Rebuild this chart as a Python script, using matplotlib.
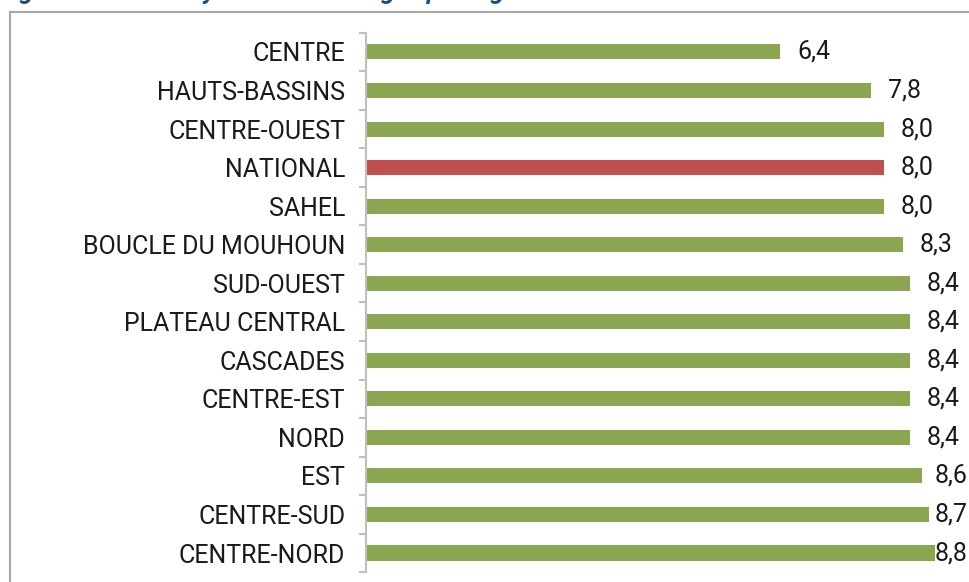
import matplotlib
matplotlib.use("Agg")
import matplotlib.pyplot as plt
from matplotlib.patches import Rectangle

regions = ["CENTRE", "HAUTS-BASSINS", "CENTRE-OUEST", "NATIONAL", "SAHEL",
           "BOUCLE DU MOUHOUN", "SUD-OUEST", "PLATEAU CENTRAL", "CASCADES",
           "CENTRE-EST", "NORD", "EST", "CENTRE-SUD", "CENTRE-NORD"]
values = [6.4, 7.8, 8.0, 8.0, 8.0, 8.3, 8.4, 8.4, 8.4, 8.4, 8.4, 8.6, 8.7, 8.8]
highlight = "NATIONAL"

green = "#8BA650"
red = "#C0504D"

plt.rcParams['font.family'] = ['Roboto', 'DejaVu Sans']

fig = plt.figure(figsize=(9.69, 5.82), dpi=100)
ax = fig.add_axes([0.3777, 0.0167, 0.601, 0.9271])

pos = list(range(len(regions)))
colors = [red if r == highlight else green for r in regions]
ax.barh(pos, values, height=0.39, color=colors)

for p, v in zip(pos, values):
    ax.text(min(v + 0.26, 8.79), p, f"{v:.1f}".replace(".", ","),
            va="center", ha="left", fontsize=18, color="#1a1a1a")

ax.set_xlim(0, 9.0)
ax.set_ylim(len(regions) - 0.5, -0.5)
ax.set_yticks(pos)
ax.set_yticklabels(regions, fontsize=18, color="#1a1a1a")
ax.tick_params(axis="y", which="major", length=0, pad=15)
ax.set_yticks([i - 0.5 for i in range(len(regions) + 1)], minor=True)
ax.tick_params(axis="y", which="minor", length=5, color="#BFBFBF", width=1.5)
ax.set_xticks([])
for s in ["top", "right", "bottom"]:
    ax.spines[s].set_visible(False)
ax.spines["left"].set_color("#BFBFBF")
ax.spines["left"].set_linewidth(1.5)

# chart frame
fig.patches.append(Rectangle((10 / 969, -0.1), 1.2, 1 - 12 / 582 + 0.1,
                             transform=fig.transFigure, fill=False,
                             edgecolor="#A6A6A6", linewidth=1.5))

# title, cut off at the top of the picture
fig.text(0.0, 1.014, "Figure 6: Taille moyenne des ménages par région",
         fontsize=18, color="#1F4E79", style="italic", weight="bold",
         va="center", ha="left")

fig.savefig("out.png", dpi=100)
